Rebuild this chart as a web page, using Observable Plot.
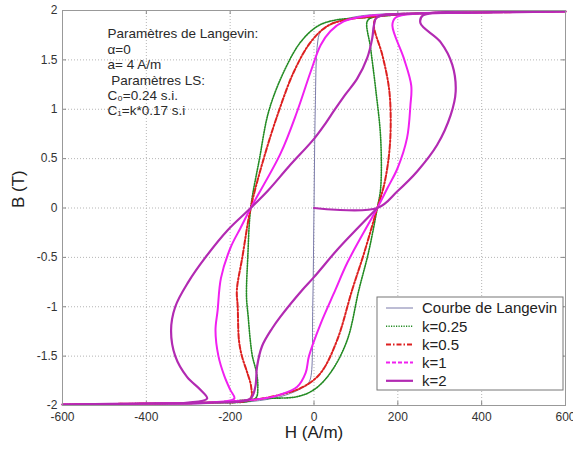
<!DOCTYPE html>
<html><head><meta charset="utf-8">
<script src="https://cdn.jsdelivr.net/npm/d3@7"></script>
<script src="https://cdn.jsdelivr.net/npm/@observablehq/plot@0.6"></script>
<style>body{margin:0;background:#fff}</style>
</head><body><div id="chart"></div>
<script>
// ---- data ----
const xTicks = [-600, -400, -200, 0, 200, 400, 600];
const yTicks = [-2, -1.5, -1, -0.5, 0, 0.5, 1, 1.5, 2];
const seriesNames = ["Courbe de Langevin", "k=0.25", "k=0.5", "k=1", "k=2"];
const annotLines = ["Paramètres de Langevin:", "α=0", "a= 4 A/m", "\u00a0Paramètres LS:", "C₀=0.24 s.i.", "C₁=k*0.17 s.i"];

const langevinH = [-600, -300, -150, -80, -36, -15, -8, -3, 0, 3, 8, 15, 39, 63, 120, 300, 600];
const langevinB = [-2, -1.985, -1.96, -1.91, -1.84, -1.78, -1.72, -1.0, 0, 1.0, 1.65, 1.78, 1.86, 1.9, 1.95, 1.98, 2];

const k025H = [600, 400, 250, 127, 47, 8, -32, -72, -108, -130, -151, -158, -161, -157, -152, -147, -137, -134, -138, -160, -250, -400, -600,
               -400, -250, -120, -40, 0, 39, 79, 107, 130, 151, 159, 159, 147, 135, 127, 140, 250, 400, 600];
const k025B = [1.99, 1.98, 1.97, 1.93, 1.9, 1.84, 1.68, 1.38, 0.98, 0.5, 0, -0.5, -0.9, -1.1, -1.34, -1.5, -1.67, -1.81, -1.92, -1.96, -1.97, -1.98, -1.99,
               -1.98, -1.97, -1.93, -1.91, -1.84, -1.67, -1.34, -0.83, -0.45, 0, 0.2, 0.71, 1.21, 1.62, 1.89, 1.93, 1.97, 1.98, 1.99];

const k05H = [600, 400, 250, 143, 70, 31, -8, -48, -84, -120, -151, -171, -184, -182, -179, -172, -159, -150, -152, -250, -400, -600,
              -400, -250, -140, -80, -25, 16, 55, 91, 120, 151, 167, 179, 183, 179, 163, 143, 150, 250, 400, 600];
const k05B = [1.99, 1.98, 1.97, 1.94, 1.9, 1.84, 1.68, 1.38, 0.98, 0.5, 0, -0.5, -0.83, -1.0, -1.34, -1.5, -1.67, -1.81, -1.93, -1.97, -1.98, -1.99,
              -1.98, -1.97, -1.94, -1.89, -1.81, -1.67, -1.34, -0.83, -0.45, 0, 0.23, 0.54, 0.87, 1.21, 1.55, 1.85, 1.93, 1.97, 1.98, 1.99];

const k1H = [600, 400, 250, 120, 71, 39, 16, -8, -40, -80, -151, -175, -199, -222, -230, -235, -228, -214, -200, -190, -250, -400, -600,
             -400, -250, -120, -80, -40, -20, -12, 16, 51, 80, 151, 175, 199, 222, 230, 232, 214, 187, 195, 250, 400, 600];
const k1B = [1.99, 1.98, 1.97, 1.94, 1.89, 1.79, 1.65, 1.38, 0.98, 0.55, 0, -0.2, -0.4, -0.71, -1.04, -1.24, -1.5, -1.7, -1.84, -1.93, -1.97, -1.98, -1.99,
             -1.98, -1.97, -1.93, -1.89, -1.81, -1.67, -1.5, -1.17, -0.83, -0.55, 0, 0.2, 0.4, 0.71, 1.04, 1.24, 1.52, 1.85, 1.93, 1.97, 1.98, 1.99];

const k2H = [0, 151, 199, 246, 294, 326, 338, 330, 302, 254, 260, 400, 600,
             400, 250, 150, 143, 139, 127, 103, 75, 47, 28, 0, -60, -109, -151, -205, -259, -300, -331, -341, -331, -303, -271, -255, -300, -400, -600,
             -400, -250, -152, -140, -136, -124, -100, -80, -28, 0, 56, 105, 151];
const k2B = [0, 0, 0.17, 0.37, 0.64, 0.94, 1.18, 1.45, 1.68, 1.87, 1.95, 1.98, 1.99,
             1.98, 1.97, 1.93, 1.85, 1.72, 1.52, 1.31, 1.15, 0.98, 0.86, 0.7, 0.42, 0.18, 0, -0.22, -0.5, -0.75, -1.0, -1.24, -1.5, -1.71, -1.84, -1.93, -1.97, -1.98, -1.99,
             -1.98, -1.97, -1.93, -1.81, -1.61, -1.4, -1.22, -1.1, -0.83, -0.7, -0.42, -0.2, 0];

// ---- build tables ----
const toRows = (hs, bs) => hs.map((h, i) => ({H: h, B: bs[i]}));
const series = [
  {name: seriesNames[0], rows: toRows(langevinH, langevinB), stroke: "#7a7aaa", width: 1, dash: null},
  {name: seriesNames[1], rows: toRows(k025H, k025B), stroke: "#238b23", width: 1.6, dash: "1.2,1.3"},
  {name: seriesNames[2], rows: toRows(k05H, k05B), stroke: "#dd2020", width: 2, dash: "5,2,1.5,2"},
  {name: seriesNames[3], rows: toRows(k1H, k1B), stroke: "#f020f0", width: 2, dash: null, legendDash: "4,2"},
  {name: seriesNames[4], rows: toRows(k2H, k2B), stroke: "#b22ab2", width: 2.2, dash: null}
];

const innerW = 573 - 62 - 8, innerH = 452 - 10 - 47;

const chart = Plot.plot({
  width: 573, height: 452,
  marginLeft: 62, marginRight: 8, marginTop: 10, marginBottom: 47,
  style: {fontFamily: "'Liberation Sans', Arial, sans-serif", background: "#fff", overflow: "visible"},
  x: {domain: [-600, 600]},
  y: {domain: [-2, 2]},
  marks: [
    Plot.gridX(xTicks, {stroke: "#b5b5b5", strokeOpacity: 1, strokeDasharray: "1,2"}),
    Plot.gridY(yTicks, {stroke: "#b5b5b5", strokeOpacity: 1, strokeDasharray: "1,2"}),
    Plot.tickX(xTicks, {x: d => d, insetTop: innerH - 4, stroke: "#888"}),
    Plot.tickX(xTicks, {x: d => d, insetBottom: innerH - 4, stroke: "#888"}),
    Plot.tickY(yTicks, {y: d => d, insetRight: innerW - 4, stroke: "#888"}),
    Plot.tickY(yTicks, {y: d => d, insetLeft: innerW - 4, stroke: "#888"}),
    Plot.axisX({ticks: xTicks, tickSize: 0, tickPadding: 7, tickFormat: d => String(d), fontSize: 12, color: "#333", label: null}),
    Plot.axisY({ticks: yTicks, tickSize: 0, tickPadding: 5, tickFormat: d => String(d), fontSize: 12, color: "#333", label: null}),
    ...series.map(s => Plot.line(s.rows, {x: "H", y: "B", stroke: s.stroke, strokeWidth: s.width, strokeDasharray: s.dash, curve: "catmull-rom"})),
    Plot.frame({stroke: "#999"}),
    Plot.text([annotLines.join("\n")], {text: d => d, frameAnchor: "top-left", dx: 45, dy: 17, textAnchor: "start", lineAnchor: "top", lineHeight: 1.14, fontSize: 13.5, fill: "#2a2a2a"}),
    Plot.text(["B (T)"], {text: d => d, frameAnchor: "left", dx: -44, rotate: -90, fontSize: 17, fill: "#222"}),
    Plot.text(["H (A/m)"], {text: d => d, frameAnchor: "bottom", dy: 32, fontSize: 17, fill: "#222"})
  ]
});

// ---- legend box inside the plot (bottom-right) ----
const svg = d3.select(chart);
const lg = svg.append("g").attr("transform", "translate(377,297)").attr("text-anchor", "start");
lg.append("rect").attr("width", 186).attr("height", 93).attr("fill", "#fff").attr("stroke", "#777").attr("stroke-width", 1);
series.forEach((s, i) => {
  const yy = 11 + i * 18.2;
  lg.append("line").attr("x1", 9).attr("x2", 36).attr("y1", yy).attr("y2", yy)
    .attr("stroke", s.stroke).attr("stroke-width", s.width)
    .attr("stroke-dasharray", s.legendDash || s.dash || null);
  lg.append("text").attr("x", 45).attr("y", yy).attr("dy", "0.36em")
    .attr("text-anchor", "start")
    .attr("font-size", 15).attr("fill", "#222").text(s.name);
});

document.getElementById("chart").appendChild(chart);
</script></body></html>
